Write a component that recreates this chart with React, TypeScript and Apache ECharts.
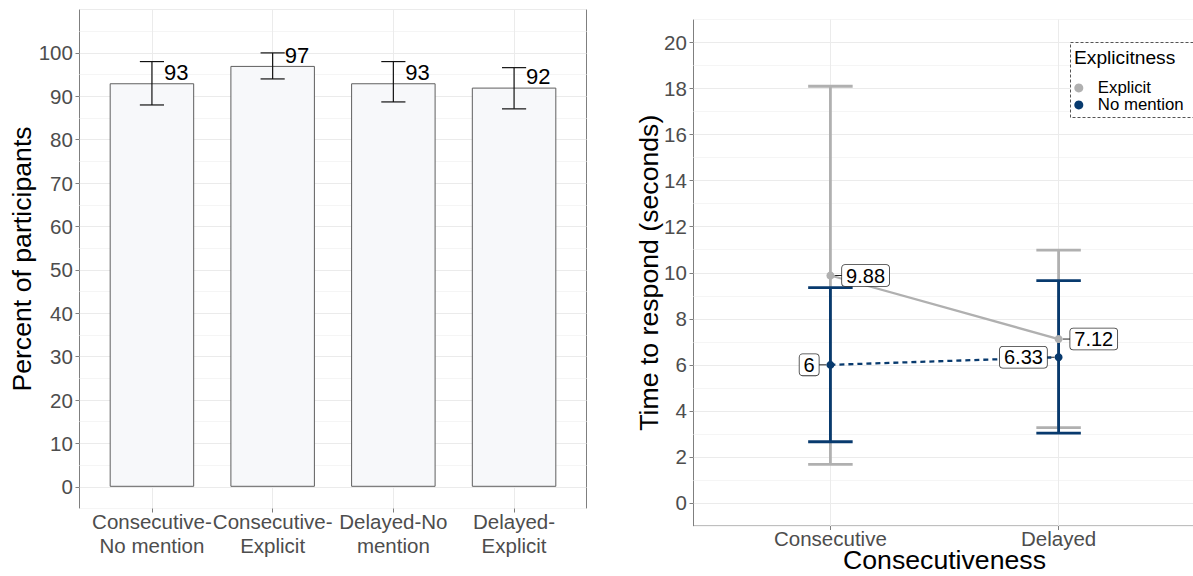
import React, { useEffect, useRef } from "react";
import * as echarts from "echarts";

// ---------- Left panel data ----------
const barCategories = ["Consecutive-\nNo mention", "Consecutive-\nExplicit", "Delayed-No\nmention", "Delayed-\nExplicit"];
const barValues = [93, 97, 93, 92];
const barLower = [88, 94, 88.7, 87.1];
const barUpper = [98, 100, 98, 96.6];
const leftYTicks = [0, 10, 20, 30, 40, 50, 60, 70, 80, 90, 100];

// ---------- Right panel data ----------
const lineCategories = ["Consecutive", "Delayed"];
const explicitMeans = [9.88, 7.12];
const explicitLower = [1.68, 3.27];
const explicitUpper = [18.1, 10.98];
const noMentionMeans = [6, 6.33];
const noMentionLower = [2.66, 3.03];
const noMentionUpper = [9.35, 9.66];
const rightYTicks = [0, 2, 4, 6, 8, 10, 12, 14, 16, 18, 20];

const FONT = "'Liberation Sans', Arial, sans-serif";
const AXIS_TEXT = "#4D4D4D";
const TICK_SIZE = 20.5;
const BORDER = "#7F7F7F";
const GRID_MAJOR = "#EBEBEB";
const GRID_MINOR = "#F5F5F5";
const GRAY = "#B0B0B0";
const BLUE = "#083A6E";

function errorRenderer(color: string, width: number, capUnits: number, connectorDir: number) {
  return (params: any, api: any) => {
    const x = api.value(0);
    const hasMean = connectorDir !== 0;
    const lo = api.value(hasMean ? 2 : 1);
    const hi = api.value(hasMean ? 3 : 2);
    const top = api.coord([x, hi]);
    const bot = api.coord([x, lo]);
    const half = api.size([capUnits, 0])[0] / 2;
    const style = { stroke: color, lineWidth: width };
    const children: any[] = [
      { type: "line", shape: { x1: top[0], y1: top[1], x2: bot[0], y2: bot[1] }, style },
      { type: "line", shape: { x1: top[0] - half, y1: top[1], x2: top[0] + half, y2: top[1] }, style },
      { type: "line", shape: { x1: bot[0] - half, y1: bot[1], x2: bot[0] + half, y2: bot[1] }, style },
    ];
    if (hasMean) {
      const m = api.coord([x, api.value(1)]);
      children.push({
        type: "line",
        shape: { x1: m[0] + connectorDir * 4, y1: m[1], x2: m[0] + connectorDir * 11.7, y2: m[1] },
        style: { stroke: "#222", lineWidth: 1 },
        z2: 10,
      });
    }
    return { type: "group", children };
  };
}

const pointLabel = (position: string) => ({
  show: true,
  position,
  distance: 7.7,
  formatter: (p: any) => String(p.value[1]),
  fontSize: 20,
  fontFamily: FONT,
  color: "#000",
  backgroundColor: "#fff",
  borderColor: "#333",
  borderWidth: 0.8,
  borderRadius: 3,
  padding: [1, 4, 0, 4],
  lineHeight: 20,
});

export default function App() {
  const ref = useRef<HTMLDivElement>(null);

  useEffect(() => {
    if (!ref.current) return;
    const chart = echarts.init(ref.current, undefined, { renderer: "svg" });

    const option: any = {
      animation: false,
      textStyle: { fontFamily: FONT },
      grid: [
        { left: 79.5, top: 9.5, width: 507, height: 499, show: true, borderColor: BORDER, borderWidth: 1, backgroundColor: "transparent", outerBoundsMode: "none" },
        { left: 693.5, top: 19.5, width: 502, height: 506.5, show: true, borderColor: BORDER, borderWidth: 1, backgroundColor: "transparent", outerBoundsMode: "none" },
      ],
      xAxis: [
        {
          gridIndex: 0, type: "value", min: 0.4, max: 4.6,
          axisLine: { show: false, onZero: false },
          axisTick: { show: true, customValues: [1, 2, 3, 4], length: 4, lineStyle: { color: BORDER } },
          axisLabel: {
            customValues: [1, 2, 3, 4],
            formatter: (v: number) => barCategories[Math.round(v) - 1],
            fontSize: TICK_SIZE, color: AXIS_TEXT, lineHeight: 23.5, margin: 24.8, verticalAlign: "middle", fontFamily: FONT,
          },
          splitLine: { show: true, lineStyle: { color: GRID_MAJOR, width: 1 } },
        },
        {
          gridIndex: 1, type: "value", min: 0.4, max: 2.6,
          axisLine: { show: false, onZero: false },
          axisTick: { show: true, customValues: [1, 2], length: 4, lineStyle: { color: BORDER } },
          axisLabel: {
            customValues: [1, 2],
            formatter: (v: number) => lineCategories[Math.round(v) - 1],
            fontSize: TICK_SIZE, color: AXIS_TEXT, margin: 12.8, verticalAlign: "middle", fontFamily: FONT,
          },
          splitLine: { show: true, lineStyle: { color: GRID_MAJOR, width: 1 } },
        },
      ],
      yAxis: [
        {
          gridIndex: 0, type: "value", min: -5, max: 110, interval: 5, position: "left",
          axisLine: { show: false, onZero: false }, axisTick: { show: false }, axisLabel: { show: false },
          splitLine: { show: true, lineStyle: { color: [GRID_MINOR, GRID_MAJOR], width: 1 } },
        },
        {
          gridIndex: 0, type: "value", min: -5, max: 110, position: "left",
          axisLine: { show: false, onZero: false },
          axisTick: { show: true, customValues: leftYTicks, length: 4, lineStyle: { color: BORDER } },
          axisLabel: { customValues: leftYTicks, fontSize: TICK_SIZE, color: AXIS_TEXT, margin: 6.6, fontFamily: FONT },
          splitLine: { show: false },
        },
        {
          gridIndex: 1, type: "value", min: -1, max: 21, interval: 1, position: "left",
          axisLine: { show: false, onZero: false }, axisTick: { show: false }, axisLabel: { show: false },
          splitLine: { show: true, lineStyle: { color: [GRID_MINOR, GRID_MAJOR], width: 1 } },
        },
        {
          gridIndex: 1, type: "value", min: -1, max: 21, position: "left",
          axisLine: { show: false, onZero: false },
          axisTick: { show: true, customValues: rightYTicks, length: 4, lineStyle: { color: BORDER } },
          axisLabel: { customValues: rightYTicks, fontSize: TICK_SIZE, color: AXIS_TEXT, margin: 6.6, fontFamily: FONT },
          splitLine: { show: false },
        },
      ],
      legend: {
        data: [
          { name: "Explicit", icon: "circle" },
          { name: "No mention", icon: "circle" },
        ],
        orient: "vertical",
        left: 1074.3,
        top: 79.4,
        padding: 0,
        itemWidth: 28,
        itemHeight: 9,
        itemGap: 0,
        selectedMode: false,
        textStyle: { fontSize: 16.8, color: "#000", lineHeight: 17, fontFamily: FONT },
        z: 6,
      },
      graphic: [
        {
          type: "rect", z: 5,
          shape: { x: 1070.5, y: 42.5, width: 150, height: 75 },
          style: { fill: "#fff", stroke: "#555", lineWidth: 1, lineDash: [3, 2] },
        },
        {
          type: "text", z: 7, x: 1074, y: 57.5,
          style: { text: "Explicitness", fontSize: 19.2, fontFamily: FONT, fill: "#000", align: "left", verticalAlign: "middle" },
        },
        {
          type: "text", z: 7, x: 22.2, y: 259, rotation: Math.PI / 2,
          style: { text: "Percent of participants", fontSize: 26.67, fontFamily: FONT, fill: "#000", align: "center", verticalAlign: "middle" },
        },
        {
          type: "text", z: 7, x: 649.2, y: 272.7, rotation: Math.PI / 2,
          style: { text: "Time to respond (seconds)", fontSize: 26.67, fontFamily: FONT, fill: "#000", align: "center", verticalAlign: "middle" },
        },
        {
          type: "text", z: 7, x: 944.5, y: 559.8,
          style: { text: "Consecutiveness", fontSize: 26.67, fontFamily: FONT, fill: "#000", align: "center", verticalAlign: "middle" },
        },
      ],
      series: [
        {
          name: "Percent",
          type: "bar",
          xAxisIndex: 0,
          yAxisIndex: 0,
          data: barValues.map((v, i) => [i + 1, v]),
          barWidth: 84.5,
          itemStyle: { color: "#F7F8FA", borderColor: "#5F5F5F", borderWidth: 1 },
          label: {
            show: true,
            position: "top",
            distance: 0,
            offset: [12, -10.7],
            align: "left",
            verticalAlign: "middle",
            formatter: (p: any) => String(p.value[1]),
            fontSize: 22,
            color: "#000",
            fontFamily: FONT,
          },
          silent: true,
          z: 2,
        },
        {
          name: "Percent CI",
          type: "custom",
          xAxisIndex: 0,
          yAxisIndex: 0,
          data: barLower.map((lo, i) => [i + 1, lo, barUpper[i]]),
          encode: { x: 0, y: [1, 2] },
          renderItem: errorRenderer("#111", 1.2, 0.2, 0),
          silent: true,
          z: 3,
        },
        {
          name: "Explicit CI",
          type: "custom",
          xAxisIndex: 1,
          yAxisIndex: 2,
          data: explicitMeans.map((m, i) => [i + 1, m, explicitLower[i], explicitUpper[i]]),
          encode: { x: 0, y: [2, 3] },
          renderItem: errorRenderer(GRAY, 2.8, 0.195, 1),
          silent: true,
          z: 2,
        },
        {
          name: "No mention CI",
          type: "custom",
          xAxisIndex: 1,
          yAxisIndex: 2,
          data: noMentionMeans.map((m, i) => [i + 1, m, noMentionLower[i], noMentionUpper[i]]),
          encode: { x: 0, y: [2, 3] },
          renderItem: errorRenderer(BLUE, 2.8, 0.195, -1),
          silent: true,
          z: 2,
        },
        {
          name: "Explicit",
          type: "line",
          xAxisIndex: 1,
          yAxisIndex: 2,
          data: explicitMeans.map((m, i) => [i + 1, m]),
          symbol: "circle",
          symbolSize: 8,
          itemStyle: { color: GRAY },
          lineStyle: { color: GRAY, width: 2.3 },
          label: pointLabel("right"),
          silent: true,
          z: 4,
        },
        {
          name: "No mention",
          type: "line",
          xAxisIndex: 1,
          yAxisIndex: 2,
          data: noMentionMeans.map((m, i) => [i + 1, m]),
          symbol: "circle",
          symbolSize: 8,
          itemStyle: { color: BLUE },
          lineStyle: { color: BLUE, width: 2.3, type: [5, 4] },
          label: pointLabel("left"),
          silent: true,
          z: 4,
        },
      ],
    };

    chart.setOption(option);
    return () => chart.dispose();
  }, []);

  return <div ref={ref} style={{ position: "absolute", left: 0, top: 0, width: 1193, height: 576 }} />;
}
